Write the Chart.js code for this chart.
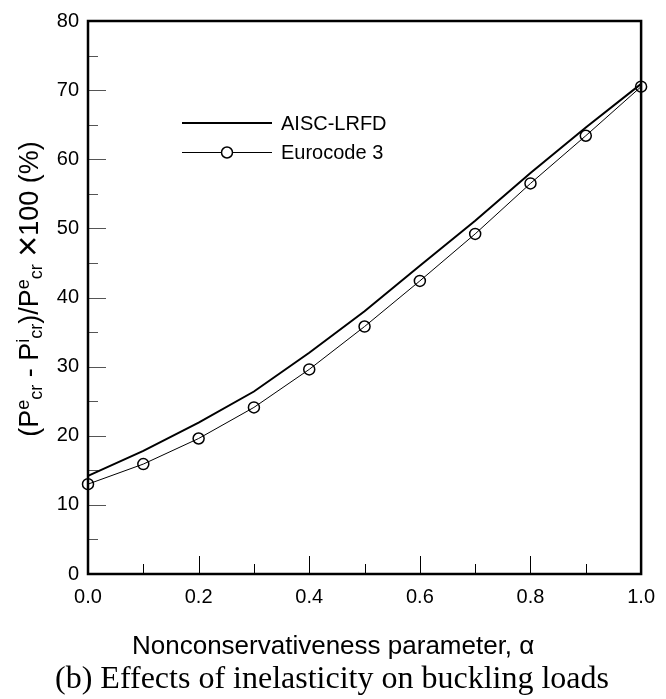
<!DOCTYPE html>
<html>
<head>
<meta charset="utf-8">
<script src="https://cdn.jsdelivr.net/npm/chart.js@4"></script>
<style>
  body { margin: 0; background: #fff; }
  canvas { display: block; }
</style>
</head>
<body>
<canvas id="chart" width="666" height="699"></canvas>
<script>
const alpha = [0.0, 0.1, 0.2, 0.3, 0.4, 0.5, 0.6, 0.7, 0.8, 0.9, 1.0];
const aiscLrfd = [14.2, 17.8, 21.9, 26.4, 32.0, 38.0, 44.6, 51.1, 58.0, 64.6, 70.9];
const eurocode3 = [13.0, 15.9, 19.6, 24.1, 29.6, 35.8, 42.4, 49.2, 56.5, 63.4, 70.5];
const seriesNames = ['AISC-LRFD', 'Eurocode 3'];
const xTitle = 'Nonconservativeness parameter, \u03b1';
const caption = '(b) Effects of inelasticity on buckling loads';

const SANS = "'Liberation Sans', Arial, sans-serif";
const SERIF = "'Liberation Serif', 'Times New Roman', serif";

// box, inward ticks, titles, legend
const decor = {
  id: 'decor',
  beforeDatasetsDraw(chart) {
    const { ctx, chartArea: a, scales } = chart;
    ctx.save();
    ctx.lineWidth = 1;
    ctx.strokeStyle = '#555';
    for (let v = 5; v < 80; v += 5) {
      const y = Math.round(scales.y.getPixelForValue(v)) + 0.5;
      const len = v % 10 === 0 ? 18 : 10;
      ctx.beginPath();
      ctx.moveTo(a.left, y);
      ctx.lineTo(a.left + len, y);
      ctx.stroke();
    }
    ctx.strokeStyle = '#000';
    for (let i = 1; i < 10; i++) {
      const x = Math.round(scales.x.getPixelForValue(i / 10)) + 0.5;
      const len = i % 2 === 0 ? 18 : 10;
      ctx.beginPath();
      ctx.moveTo(x, a.bottom);
      ctx.lineTo(x, a.bottom - len);
      ctx.stroke();
    }
    ctx.lineWidth = 2.5;
    ctx.strokeRect(a.left, a.top, a.right - a.left, a.bottom - a.top);
    ctx.restore();
  },
  afterDraw(chart) {
    const { ctx } = chart;
    ctx.save();
    ctx.fillStyle = '#000';
    ctx.textBaseline = 'alphabetic';
    ctx.textAlign = 'left';
    ctx.font = '26px ' + SANS;
    ctx.fillText(xTitle, 132, 654);
    ctx.textAlign = 'center';
    ctx.font = '32px ' + SERIF;
    ctx.fillText(caption, 332, 688);

    // y label with super/subscripts
    const big = 27, small = 18;
    const parts = [
      ['(P', 0, big], ['e', -1, small], ['cr', 1, small],
      [' - P', 0, big], ['i', -1, small], ['cr', 1, small],
      [')/P', 0, big], ['e', -1, small], ['cr', 1, small],
      [' ', 0, big], ['\u00d7', 0, 36], ['100 (%)', 0, big]
    ];
    let total = 0;
    parts.forEach(p => { ctx.font = p[2] + 'px ' + SANS; total += ctx.measureText(p[0]).width; });
    ctx.translate(38, 289);
    ctx.rotate(-Math.PI / 2);
    ctx.textAlign = 'left';
    let x = -total / 2;
    parts.forEach(p => {
      ctx.font = p[2] + 'px ' + SANS;
      let dy = p[1] < 0 ? -9 : (p[1] > 0 ? 4 : 0);
      if (p[2] === 36) dy = 2;
      ctx.fillText(p[0], x, dy);
      x += ctx.measureText(p[0]).width;
    });
    ctx.restore();

    // legend
    ctx.save();
    ctx.strokeStyle = '#000';
    ctx.lineWidth = 2;
    ctx.beginPath(); ctx.moveTo(182, 123); ctx.lineTo(272, 123); ctx.stroke();
    ctx.lineWidth = 1;
    ctx.beginPath(); ctx.moveTo(182, 152.5); ctx.lineTo(272, 152.5); ctx.stroke();
    ctx.lineWidth = 1.5;
    ctx.fillStyle = '#fff';
    ctx.beginPath(); ctx.arc(227, 152.5, 5.5, 0, Math.PI * 2); ctx.fill(); ctx.stroke();
    ctx.fillStyle = '#000';
    ctx.font = '20px ' + SANS;
    ctx.textAlign = 'left';
    ctx.textBaseline = 'middle';
    ctx.fillText(seriesNames[0], 281, 124);
    ctx.fillText(seriesNames[1], 281, 153);
    ctx.restore();
  }
};

new Chart(document.getElementById('chart'), {
  type: 'line',
  data: {
    labels: alpha,
    datasets: [
      {
        label: seriesNames[0],
        data: alpha.map((a, i) => ({ x: a, y: aiscLrfd[i] })),
        borderColor: '#000',
        borderWidth: 2,
        pointRadius: 0,
        tension: 0,
        clip: false,
      },
      {
        label: seriesNames[1],
        data: alpha.map((a, i) => ({ x: a, y: eurocode3[i] })),
        borderColor: '#000',
        borderWidth: 1,
        pointRadius: 5.5,
        pointBorderWidth: 1.5,
        pointBorderColor: '#000',
        pointBackgroundColor: 'rgba(0,0,0,0)',
        tension: 0,
        clip: false,
      },
    ],
  },
  options: {
    responsive: false,
    animation: false,
    layout: { padding: { top: 16, right: 17, left: 0, bottom: 0 } },
    plugins: { legend: { display: false }, tooltip: { enabled: false } },
    scales: {
      x: {
        type: 'linear',
        min: 0,
        max: 1,
        grid: { display: false, drawTicks: false },
        border: { display: false },
        ticks: {
          stepSize: 0.2,
          padding: 11,
          color: '#000',
          font: { family: SANS, size: 20 },
          callback: (v) => v.toFixed(1),
        },
        afterFit: (s) => { s.height = 125; },
      },
      y: {
        min: 0,
        max: 80,
        grid: { display: false, drawTicks: false },
        border: { display: false },
        ticks: {
          stepSize: 10,
          padding: 9,
          color: '#000',
          font: { family: SANS, size: 20 },
        },
        afterFit: (s) => { s.width = 88; },
      },
    },
  },
  plugins: [decor],
});
</script>
</body>
</html>
